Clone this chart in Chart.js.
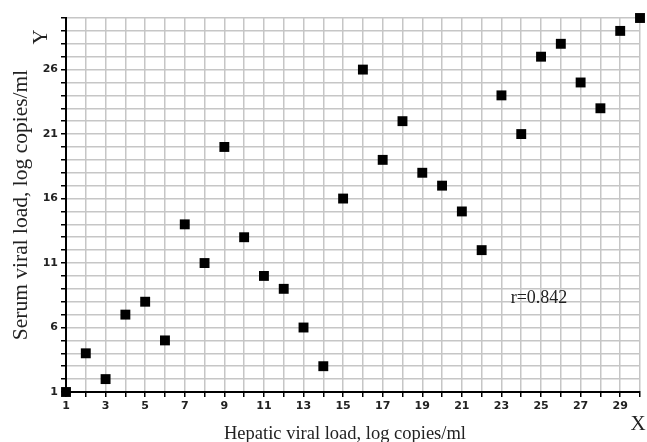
<!DOCTYPE html>
<html>
<head>
<meta charset="utf-8">
<script src="https://cdn.jsdelivr.net/npm/chart.js@4"></script>
<style>
html,body{margin:0;padding:0;background:#fff;}
#wrap{width:647px;height:442px;position:relative;}
</style>
</head>
<body>
<div id="wrap"><canvas id="c" width="647" height="442"></canvas></div>
<script>
const hepaticLoad = [1,2,3,4,5,6,7,8,9,10,11,12,13,14,15,16,17,18,19,20,21,22,23,24,25,26,27,28,29,30];
const serumLoad   = [1,4,2,7,8,5,14,11,20,13,10,9,6,3,16,26,19,22,18,17,15,12,24,21,27,28,25,23,29,30];
const xTickLabels = [1,3,5,7,9,11,13,15,17,19,21,23,25,27,29];
const yTickLabels = [1,6,11,16,21,26];
const xTitle = 'Hepatic viral load, log copies/ml';
const yTitle = 'Serum viral load, log copies/ml';
const rLabel = 'r=0.842';

const points = hepaticLoad.map((x, i) => ({x: x, y: serumLoad[i]}));

const extras = {
  id: 'extras',
  afterDraw(chart) {
    const ctx = chart.ctx;
    ctx.save();
    ctx.fillStyle = '#222';
    ctx.textAlign = 'center';
    ctx.textBaseline = 'alphabetic';
    ctx.font = '18.5px "Liberation Serif", "Times New Roman", serif';
    ctx.fillText(xTitle, 345, 439);
    ctx.textBaseline = 'middle';
    ctx.font = '18px "Liberation Serif", "Times New Roman", serif';
    ctx.fillText(rLabel, 539, 298);
    ctx.font = '21px "Liberation Serif", "Times New Roman", serif';
    ctx.fillText('X', 638, 424);
    ctx.translate(41, 37);
    ctx.rotate(-Math.PI / 2);
    ctx.fillText('Y', 0, 0);
    ctx.restore();
  }
};

new Chart(document.getElementById('c'), {
  type: 'scatter',
  data: {
    datasets: [{
      data: points,
      pointStyle: 'rect',
      pointRadius: 7,
      pointHoverRadius: 7,
      backgroundColor: '#000',
      borderWidth: 0,
      clip: false
    }]
  },
  options: {
    responsive: false,
    animation: false,
    devicePixelRatio: 1,
    layout: {padding: {top: 18, right: 1, left: 0, bottom: 0}},
    plugins: {legend: {display: false}, tooltip: {enabled: false}},
    scales: {
      x: {
        type: 'linear', min: 1, max: 30,
        afterFit(s) { s.height = 50; },
        grid: {color: '#c6c6c6', lineWidth: 1.5, tickColor: '#000', tickLength: 5, tickWidth: 1.5},
        border: {color: '#000', width: 2},
        ticks: {
          stepSize: 1, maxRotation: 0, autoSkip: false, padding: 3,
          color: '#222',
          font: {family: '"DejaVu Sans", Verdana, sans-serif', size: 11, weight: 'bold'},
          callback: v => xTickLabels.includes(v) ? String(v) : ''
        },
        title: {display: false, text: xTitle}
      },
      y: {
        type: 'linear', min: 1, max: 30,
        afterFit(s) { s.width = 66; },
        grid: {color: '#c6c6c6', lineWidth: 1.5, tickColor: '#000', tickLength: 5, tickWidth: 1.5},
        border: {color: '#000', width: 2},
        ticks: {
          stepSize: 1, autoSkip: false, padding: 3,
          color: '#222',
          font: {family: '"DejaVu Sans", Verdana, sans-serif', size: 11, weight: 'bold'},
          callback: v => yTickLabels.includes(v) ? String(v) : ''
        },
        title: {
          display: true, text: yTitle, color: '#222',
          font: {family: '"Liberation Serif", "Times New Roman", serif', size: 21.5},
          padding: {top: 8, bottom: 0}
        }
      }
    }
  },
  plugins: [extras]
});
</script>
</body>
</html>
